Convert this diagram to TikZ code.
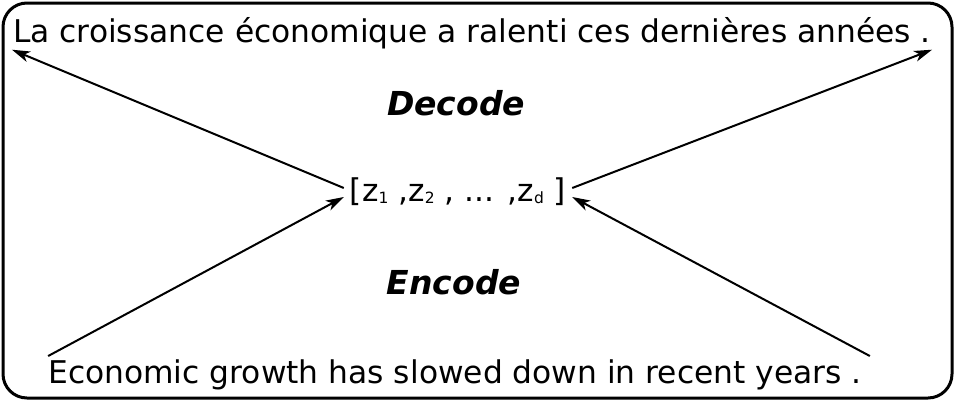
\documentclass[tikz,border=0pt]{standalone}
\usepackage{fontspec}
\setmainfont{DejaVu Sans}
\usetikzlibrary{arrows.meta}
\newcommand{\zsub}[1]{\raisebox{-2pt}{\fontsize{15.5}{18}\selectfont #1}}
\begin{document}
\begin{tikzpicture}[x=1pt,y=-1pt,
  sent/.style={font=\fontsize{31.3}{38}\selectfont,inner sep=1pt,anchor=base},
  verb/.style={font=\fontsize{33}{40}\selectfont\bfseries\itshape,anchor=base},
  arr/.style={line width=2pt,-{Stealth[length=18pt,width=11pt,inset=5pt]}}]
\useasboundingbox (0,0) rectangle (955,402);
\draw[line width=3pt,rounded corners=24pt] (3,3) rectangle (952,398);
%sentences
\node[sent] (fr) at (472,42) {La croissance économique a ralenti ces dernières années .};
\node[sent] (en) at (455,383) {Economic growth has slowed down in recent years .};
\node[verb] (dec) at (456,115) {Decode};
\node[verb] (enc) at (454,294) {Encode};
\node[sent,inner sep=6pt] (z) at (458,201)
  {[z\zsub{1} ,z\zsub{2} , ... ,z\zsub{d} ]};
%arrows
\draw[arr] ([yshift=13pt]z.base west)--(fr.south west);
\draw[arr] ([yshift=13pt]z.base east)--(fr.south east);
\draw[arr] ([xshift=1pt,yshift=2pt]en.north west)--([yshift=4pt]z.base west);
\draw[arr] ([xshift=7pt,yshift=2pt]en.north east)--([yshift=4pt]z.base east);
\end{tikzpicture}
\end{document}
